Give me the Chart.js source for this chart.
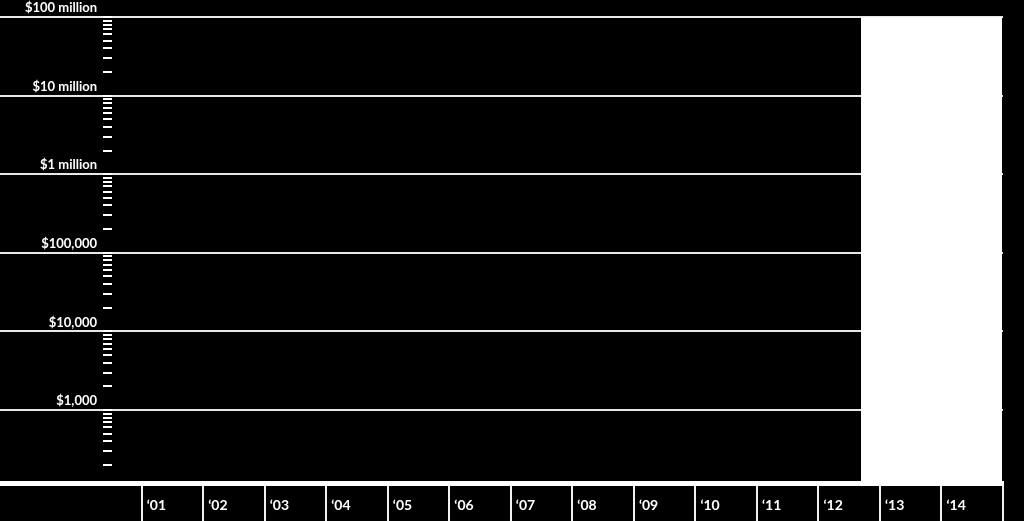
<!DOCTYPE html>
<html>
<head>
<meta charset="utf-8">
<script src="https://cdn.jsdelivr.net/npm/chart.js@4/dist/chart.umd.min.js"></script>
<style>
    html, body { margin: 0; padding: 0; background: #000; }
    #wrap { width: 1024px; height: 521px; }
</style>
</head>
<body>
<div id="wrap"><canvas id="template_chart"></canvas></div>
<script>
// year columns (tick i sits at the left edge of column i)
const years = ["\u201801", "\u201802", "\u201803", "\u201804", "\u201805", "\u201806", "\u201807",
    "\u201808", "\u201809", "\u201810", "\u201811", "\u201812", "\u201813", "\u201814"];

// log scale, one labelled line per decade
const scaleMin = 118;
const majorValues = [scaleMin, 1e3, 1e4, 1e5, 1e6, 1e7, 1e8];
const majorLabels = ["", "$1,000", "$10,000", "$100,000", "$1 million", "$10 million", "$100 million"];
const minorSteps = [1, 2, 3, 4, 5, 6, 7, 8, 9];
const decades = [1e2, 1e3, 1e4, 1e5, 1e6, 1e7];

// highlighted (white) period, in column units
const highlightX = [11.69, 13.985];
const highlightY = [1e8, 1e8];

const minorValues = [scaleMin];
decades.forEach(function (d) {
    minorSteps.forEach(function (k) {
        if (k * d > scaleMin) minorValues.push(k * d);
    });
});
minorValues.push(1e8);

new Chart(document.getElementById("template_chart"), {
    type: "line",
    data: {
        datasets: [
            {
                data: highlightX.map(function (x, i) { return { x: x, y: highlightY[i] }; }),
                fill: "start",
                backgroundColor: "#ffffff",
                borderWidth: 0,
                pointRadius: 0,
                yAxisID: "y",
            },
        ],
    },
    options: {
        responsive: true,
        maintainAspectRatio: false,
        animation: false,
        layout: { padding: { top: 17, right: 21, left: 0, bottom: 0 } },
        plugins: { legend: { display: false }, tooltip: { enabled: false } },
        scales: {
            x: {
                type: "linear",
                min: -0.483,
                max: 14,
                border: { display: true, color: "#ffffff", width: 5 },
                grid: {
                    drawOnChartArea: false,
                    color: "#f0f0f0",
                    lineWidth: 2,
                    tickLength: 38,
                },
                ticks: {
                    color: "#ffffff",
                    font: { family: "Lato", weight: "bold", size: 14 },
                    align: "start",
                    labelOffset: 5,
                    padding: -24,
                    maxRotation: 0,
                    autoSkip: false,
                    callback: function (v) { return years[v] || ""; },
                },
                afterBuildTicks: function (scale) {
                    scale.ticks = years.map(function (_, i) { return { value: i }; });
                    scale.ticks.push({ value: years.length });
                },
                afterFit: function (scale) {
                    scale.height = 38;
                    scale.paddingLeft = 0;
                    scale.paddingRight = 0;
                },
            },
            y: {
                type: "logarithmic",
                position: "left",
                weight: 1,
                min: scaleMin,
                max: 1e8,
                border: { display: false },
                grid: {
                    color: function (ctx) { return ctx.index === 0 ? "#ffffff" : "#e8e8e8"; },
                    lineWidth: function (ctx) { return ctx.index === 0 ? 5 : 2; },
                    tickLength: 112,
                },
                ticks: {
                    color: "#ffffff",
                    font: { family: "Lato", weight: "bold", size: 13 },
                    padding: -106,
                    labelOffset: -9,
                    callback: function (v) {
                        const i = majorValues.indexOf(v);
                        return i >= 0 ? majorLabels[i] : "";
                    },
                },
                afterBuildTicks: function (scale) {
                    scale.ticks = majorValues.map(function (v) { return { value: v }; });
                },
                afterFit: function (scale) {
                    scale.width = 103;
                    scale.paddingTop = 0;
                    scale.paddingBottom = 0;
                },
            },
            yMinor: {
                type: "logarithmic",
                position: "left",
                weight: 0,
                min: scaleMin,
                max: 1e8,
                border: { display: false },
                grid: {
                    drawOnChartArea: false,
                    color: "#ffffff",
                    lineWidth: function (ctx) { return ctx.index === 0 ? 5 : 2; },
                    tickLength: 9,
                },
                ticks: { display: false },
                afterBuildTicks: function (scale) {
                    scale.ticks = minorValues.map(function (v) { return { value: v }; });
                },
                afterFit: function (scale) {
                    scale.width = 9;
                    scale.paddingTop = 0;
                    scale.paddingBottom = 0;
                },
            },
        },
    },
});
</script>
</body>
</html>
